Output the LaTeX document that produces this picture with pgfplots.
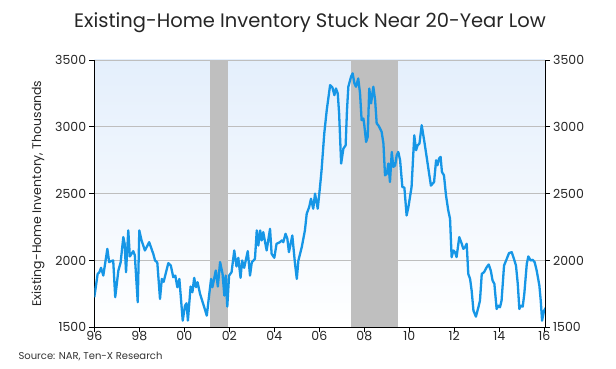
\documentclass[border=0pt]{standalone}
\usepackage{fontspec}
\setmainfont{Poppins}
\usepackage{pgfplots}
\pgfplotsset{compat=1.18}
\definecolor{linecol}{RGB}{22,150,230}
\definecolor{recess}{RGB}{191,191,191}
\definecolor{bgtop}{RGB}{228,239,252}
\definecolor{gridc}{RGB}{190,190,190}
\pgfplotsset{
  common/.style={
    at={(94.3pt,41.7pt)}, anchor=south west,
    scale only axis, width=450.7pt, height=267.3pt,
    xmin=1996, xmax=2016.03, ymin=1500, ymax=3500,
    ytick={1500,2000,2500,3000,3500},
    /pgf/number format/assume math mode=true,
    /pgf/number format/1000 sep={},
    tick label style={font=\fontsize{12.5}{12.5}\selectfont, text=black!85},
    tick align=outside, major tick length=5pt,
    tick style={black, line width=0.8pt},
    axis line style={-, black, line width=0.9pt},
  }
}
\begin{document}
\begin{tikzpicture}
\useasboundingbox (0pt,0pt) rectangle (616pt,369pt);
\node[font=\fontsize{19.5}{19.5}\selectfont, text=black!85] at (310pt,346pt) {Existing-Home Inventory Stuck Near 20-Year Low};
\node[font=\fontsize{10}{10}\selectfont, anchor=west, text=black!80] at (15pt,12pt) {Source: NAR, Ten-X Research};
\begin{axis}[common,
  axis x line*=bottom, axis y line*=left,
  axis background/.style={shade, top color=bgtop, bottom color=white},
  ymajorgrids, major grid style={gridc, line width=0.9pt},
  xtick={1996,1998,2000,2002,2004,2006,2008,2010,2012,2014,2016},
  xticklabels={96,98,00,02,04,06,08,10,12,14,16},
  xticklabel style={yshift=2pt, inner sep=1pt},
  yticklabel style={inner sep=3pt},
  ylabel={Existing-Home Inventory, Thousands},
  ylabel style={font=\fontsize{12.5}{12.5}\selectfont, text=black!85, at={(axis description cs:-0.125,0.5)}, anchor=center},
]
\addplot[fill=recess, draw=none] coordinates {(2001.14,1500) (2001.14,3500) (2001.96,3500) (2001.96,1500)} -- cycle;
\addplot[fill=recess, draw=none] coordinates {(2007.40,1500) (2007.40,3500) (2009.50,3500) (2009.50,1500)} -- cycle;
\addplot[linecol, line width=2.3pt, line join=round] coordinates {
(1996.00,1725) (1996.15,1900) (1996.22,1910) (1996.30,1945) (1996.40,1887)
(1996.58,2087) (1996.66,1988) (1996.75,1995) (1996.84,2000) (1996.93,1725)
(1997.07,1925) (1997.17,1985) (1997.29,2175) (1997.35,2125) (1997.41,1912)
(1997.51,2225) (1997.58,2030) (1997.73,2070) (1997.80,2040) (1997.93,1688)
(1998.00,2225) (1998.10,2150) (1998.25,2075) (1998.44,2137) (1998.62,2050)
(1998.70,2000) (1998.80,1985) (1998.92,1712) (1999.00,1862) (1999.08,1840)
(1999.29,1980) (1999.40,1962) (1999.51,1875) (1999.60,1887) (1999.69,1800)
(1999.78,1862) (1999.93,1550) (2000.03,1662) (2000.10,1680) (2000.16,1550)
(2000.28,1805) (2000.36,1762) (2000.44,1870) (2000.52,1800) (2000.59,1837)
(2000.70,1750) (2000.84,1675) (2001.00,1587) (2001.11,1750) (2001.19,1862)
(2001.25,1800) (2001.40,1925) (2001.49,1805) (2001.59,1988) (2001.70,1900)
(2001.78,1737) (2001.84,1887) (2001.91,1655) (2001.99,1887) (2002.10,1912)
(2002.22,2075) (2002.32,1955) (2002.40,2020) (2002.50,1870) (2002.57,2000)
(2002.66,1945) (2002.82,2070) (2002.92,1887) (2003.00,1987) (2003.14,2012)
(2003.22,2225) (2003.29,2112) (2003.37,2225) (2003.44,2150) (2003.51,2212)
(2003.59,2137) (2003.66,2075) (2003.81,2237) (2003.88,2050) (2004.00,2020)
(2004.10,2125) (2004.25,2137) (2004.33,2150) (2004.40,2137) (2004.50,2200)
(2004.58,2162) (2004.65,2062) (2004.80,2187) (2004.92,1975) (2005.00,1862)
(2005.07,2000) (2005.22,2100) (2005.36,2225) (2005.44,2350) (2005.55,2400)
(2005.63,2462) (2005.73,2387) (2005.81,2500) (2005.93,2387) (2006.03,2550)
(2006.10,2675) (2006.22,2950) (2006.33,3125) (2006.48,3312) (2006.58,3295)
(2006.67,3237) (2006.74,3287) (2006.82,3250) (2006.88,3100) (2006.97,2725)
(2007.07,2837) (2007.17,2862) (2007.23,3125) (2007.29,3300) (2007.41,3375)
(2007.48,3400) (2007.56,3325) (2007.63,3300) (2007.73,3362) (2007.81,3250)
(2007.88,3050) (2007.96,3062) (2008.00,3012) (2008.08,2887) (2008.15,2925)
(2008.22,3287) (2008.30,3175) (2008.40,3300) (2008.48,3200) (2008.55,3025)
(2008.62,3012) (2008.70,2987) (2008.77,2962) (2008.85,2875) (2008.92,2637)
(2009.00,2650) (2009.07,2725) (2009.14,2587) (2009.22,2812) (2009.29,2700)
(2009.37,2712) (2009.44,2787) (2009.51,2812) (2009.59,2750) (2009.69,2550)
(2009.78,2545) (2009.88,2337) (2009.96,2400) (2010.10,2550) (2010.22,2937)
(2010.30,2825) (2010.37,2862) (2010.45,2875) (2010.55,3012) (2010.67,2887)
(2010.77,2775) (2010.88,2650) (2010.96,2560) (2011.10,2587) (2011.19,2750)
(2011.25,2712) (2011.32,2762) (2011.39,2775) (2011.45,2662) (2011.54,2637)
(2011.63,2487) (2011.73,2375) (2011.81,2312) (2011.88,2025) (2011.96,2075)
(2012.03,2062) (2012.10,2025) (2012.22,2175) (2012.33,2125) (2012.40,2087)
(2012.48,2100) (2012.55,2125) (2012.62,1900) (2012.70,1862) (2012.77,1775)
(2012.85,1625) (2012.96,1580) (2013.07,1650) (2013.14,1700) (2013.22,1900)
(2013.32,1912) (2013.44,1950) (2013.53,1970) (2013.62,1925) (2013.70,1850)
(2013.78,1825) (2013.88,1637) (2013.96,1662) (2014.03,1650) (2014.10,1700)
(2014.21,1962) (2014.33,2012) (2014.43,2055) (2014.55,2062) (2014.65,2012)
(2014.74,1962) (2014.82,1825) (2014.89,1637) (2014.96,1662) (2015.04,1655)
(2015.11,1750) (2015.22,1975) (2015.29,2030) (2015.39,2000) (2015.48,2005)
(2015.57,1987) (2015.66,1925) (2015.78,1812) (2015.84,1700) (2015.90,1550)
(2015.99,1625) (2016.08,1650)
};
\end{axis}
\begin{axis}[common,
  axis x line=none, axis y line*=right,
  yticklabel style={inner sep=3pt},
]
\end{axis}
\end{tikzpicture}
\end{document}
